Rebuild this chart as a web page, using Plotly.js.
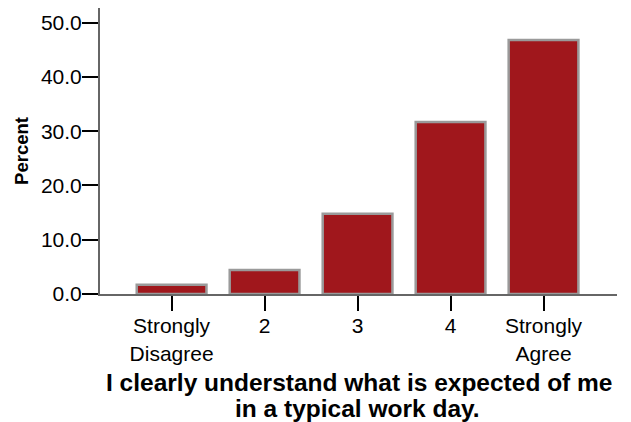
<!DOCTYPE html>
<html>
<head>
<meta charset="utf-8">
<script src="https://cdn.plot.ly/plotly-3.0.1.min.js"></script>
<style>html,body{margin:0;padding:0;background:#fff;}#chart{width:631px;height:422px;}</style>
</head>
<body>
<div id="chart"></div>
<script>
var categories = ["Strongly<br>Disagree", "2", "3", "4", "Strongly<br>Agree"];
var percentValues = [1.7, 4.4, 14.8, 31.7, 46.8];
var yTickValues = [0, 10, 20, 30, 40, 50];
var yTickLabels = ["0.0", "10.0", "20.0", "30.0", "40.0", "50.0"];
var xTitleLines = ["I clearly understand what is expected of me", "in a typical work day."];
var yTitle = "Percent";

var FONT = "Liberation Sans, Arial, Helvetica, sans-serif";

var trace = {
  type: "bar",
  x: categories,
  y: percentValues,
  width: 0.75,
  marker: { color: "#a0171c", line: { color: "#9a9a9a", width: 2.5 } },
  hoverinfo: "none"
};

var layout = {
  width: 631, height: 422,
  margin: { l: 100, r: 14, t: 8, b: 128 },
  paper_bgcolor: "#ffffff", plot_bgcolor: "#ffffff",
  showlegend: false,
  font: { family: FONT, color: "#000000", size: 21 },
  xaxis: {
    type: "category",
    categoryorder: "array",
    categoryarray: categories,
    range: [-0.77, 4.79],
    showline: true, linecolor: "#666666", linewidth: 2,
    ticks: "outside", ticklen: 15, tickwidth: 2, tickcolor: "#000000",
    ticklabelstandoff: -3,
    showgrid: false, zeroline: false,
    tickfont: { family: FONT, size: 21, color: "#000000" },
    fixedrange: true
  },
  yaxis: {
    range: [0, 52.7],
    tickmode: "array", tickvals: yTickValues, ticktext: yTickLabels,
    showline: true, linecolor: "#666666", linewidth: 2,
    ticks: "outside", ticklen: 16, tickwidth: 2, tickcolor: "#000000",
    ticklabelstandoff: -4,
    showgrid: false, zeroline: false,
    tickfont: { family: FONT, size: 21, color: "#000000" },
    title: { text: yTitle, font: { family: FONT, size: 18.5, color: "#000000", weight: "bold" }, standoff: 7 },
    fixedrange: true
  },
  annotations: [
    { text: "<b>" + xTitleLines[0] + "</b>", xref: "paper", yref: "paper", x: 0.502, y: -0.308, xanchor: "center", yanchor: "middle", showarrow: false, font: { family: FONT, size: 24.5, color: "#000000" } },
    { text: "<b>" + xTitleLines[1] + "</b>", xref: "paper", yref: "paper", x: 0.499, y: -0.399, xanchor: "center", yanchor: "middle", showarrow: false, font: { family: FONT, size: 24.5, color: "#000000" } }
  ]
};

Plotly.newPlot("chart", [trace], layout, { displayModeBar: false, staticPlot: true });
</script>
</body>
</html>
